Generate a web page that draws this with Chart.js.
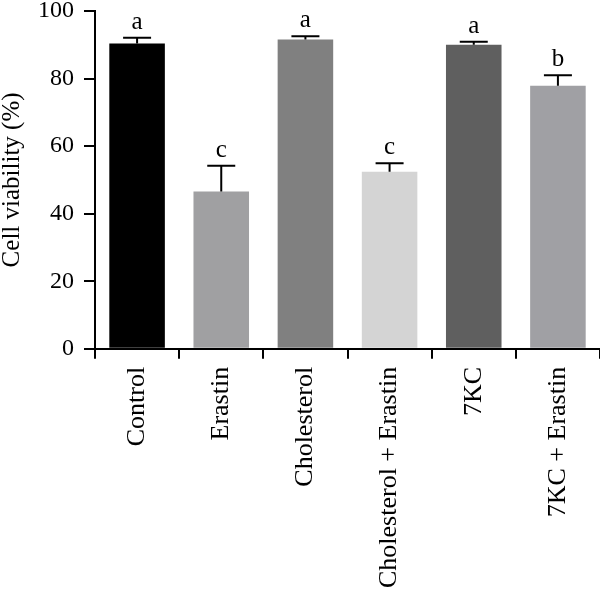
<!DOCTYPE html>
<html>
<head>
<meta charset="utf-8">
<script src="https://cdn.jsdelivr.net/npm/chart.js@4"></script>
<style>
  html, body { margin: 0; padding: 0; background: #fff; }
  #wrap { width: 600px; height: 596px; }
</style>
</head>
<body>
<div id="wrap"><canvas id="chart"></canvas></div>
<script>
const categories = ['Control', 'Erastin', 'Cholesterol', 'Cholesterol + Erastin', '7KC', '7KC + Erastin'];
const viability = [90.4, 46.6, 91.6, 52.4, 90.0, 77.9];
const errorTop = [92.1, 54.2, 92.5, 54.9, 90.9, 81.0];
const groupLetters = ['a', 'c', 'a', 'c', 'a', 'b'];
const barColors = ['#000000', '#a0a0a2', '#808080', '#d4d4d4', '#5f5f5f', '#a0a0a4'];
const yTicks = [0, 20, 40, 60, 80, 100];

const serif = 'Liberation Serif';
Chart.defaults.font.family = serif;
Chart.defaults.color = '#000';

// error bars + significance letters
const errorBars = {
    id: 'errorBars',
    afterDatasetsDraw(chart) {
        const { ctx, scales } = chart;
        const meta = chart.getDatasetMeta(0);
        ctx.save();
        ctx.strokeStyle = '#000';
        ctx.lineWidth = 2;
        ctx.fillStyle = '#000';
        ctx.font = '25px "Liberation Serif"';
        ctx.textAlign = 'center';
        ctx.textBaseline = 'alphabetic';
        meta.data.forEach((bar, i) => {
            const yBar = scales.y.getPixelForValue(viability[i]);
            const yErr = scales.y.getPixelForValue(errorTop[i]);
            ctx.beginPath();
            ctx.moveTo(bar.x, yBar);
            ctx.lineTo(bar.x, yErr);
            ctx.moveTo(bar.x - 14, yErr);
            ctx.lineTo(bar.x + 14, yErr);
            ctx.stroke();
            ctx.fillText(groupLetters[i], bar.x, yErr - 9);
        });
        ctx.restore();
    }
};

new Chart(document.getElementById('chart'), {
    type: 'bar',
    data: {
        labels: categories,
        datasets: [{
            data: viability,
            backgroundColor: barColors,
            borderWidth: 0,
            barPercentage: 0.66,
            categoryPercentage: 1
        }]
    },
    options: {
        responsive: true,
        maintainAspectRatio: false,
        animation: false,
        plugins: {
            legend: { display: false },
            tooltip: { enabled: false }
        },
        scales: {
            x: {
                grid: { drawOnChartArea: false, drawTicks: true, tickLength: 10, color: '#000', lineWidth: 2 },
                border: { color: '#000', width: 2 },
                ticks: {
                    color: '#000',
                    font: { family: serif, size: 26 },
                    minRotation: 90,
                    maxRotation: 90,
                    padding: 8
                }
            },
            y: {
                min: 0,
                max: 100,
                afterBuildTicks: axis => { axis.ticks = yTicks.map(v => ({ value: v })); },
                // keep the top tick close to the canvas edge
                afterFit: axis => { axis.paddingTop = 11; },
                grid: { drawOnChartArea: false, drawTicks: true, tickLength: 11, color: '#000', lineWidth: 2 },
                border: { color: '#000', width: 2 },
                ticks: {
                    color: '#000',
                    font: { family: serif, size: 24, lineHeight: 1 },
                    padding: 10
                },
                title: {
                    display: true,
                    text: 'Cell viability (%)',
                    color: '#000',
                    font: { family: serif, size: 25, lineHeight: 1 },
                    padding: { top: 0, bottom: 3 }
                }
            }
        }
    },
    plugins: [errorBars]
});
</script>
</body>
</html>
